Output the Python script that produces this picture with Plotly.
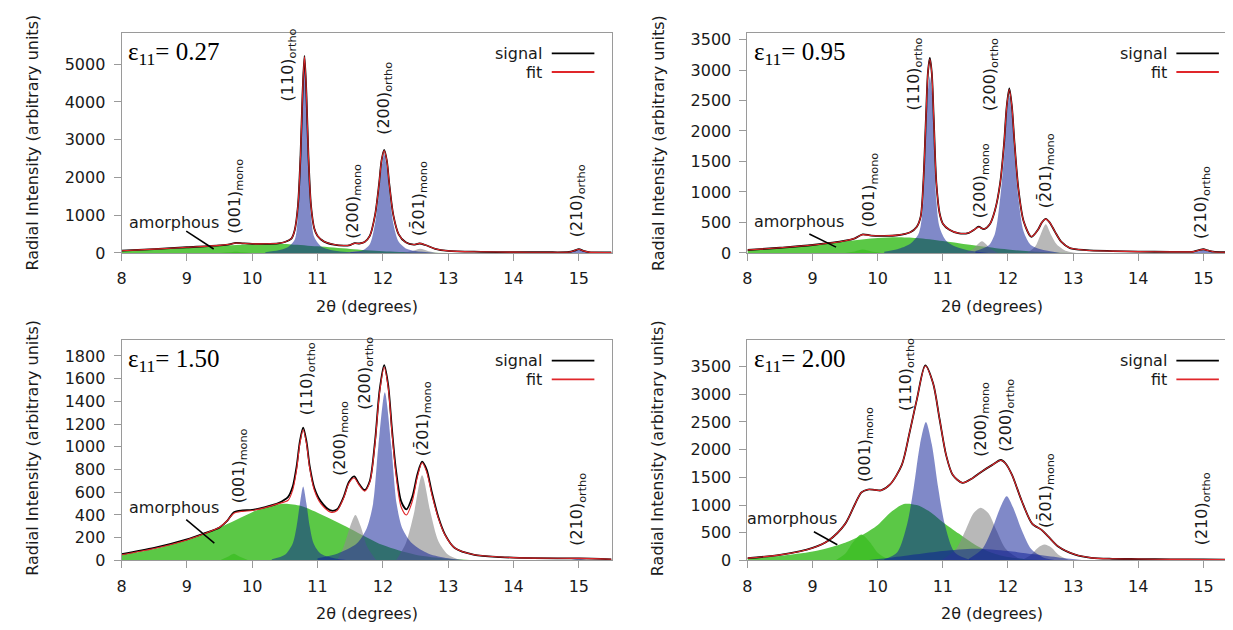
import plotly.graph_objects as go

# ---------------- data ----------------
# Panel A : eps11 = 0.27
A_SIG_X = [8.0, 8.5, 9.0, 9.5, 9.65, 9.75, 9.85, 10.0, 10.2, 10.4, 10.5, 10.6, 10.65, 10.7, 10.74, 10.77, 10.8, 10.83, 10.86, 10.9, 10.95, 11.0, 11.1, 11.25, 11.4, 11.5, 11.57, 11.64, 11.72, 11.8, 11.88, 11.94, 11.98, 12.02, 12.06, 12.1, 12.16, 12.24, 12.35, 12.47, 12.56, 12.65, 12.8, 13.0, 13.5, 14.0, 14.5, 14.85, 14.93, 15.0, 15.07, 15.15, 15.5]
A_SIG_Y = [60, 100, 150, 200, 225, 265, 255, 240, 240, 255, 290, 380, 600, 1250, 2600, 4200, 5220, 4200, 2600, 1250, 650, 450, 300, 220, 195, 210, 260, 250, 290, 450, 1000, 1800, 2450, 2730, 2450, 1800, 1000, 500, 280, 220, 250, 210, 110, 55, 30, 20, 18, 25, 60, 100, 55, 22, 12]
A_FIT_Y = [58, 100, 150, 200, 228, 262, 255, 242, 242, 255, 292, 382, 600, 1250, 2600, 4200, 5200, 4200, 2600, 1250, 650, 450, 300, 222, 197, 212, 255, 250, 290, 450, 1000, 1800, 2450, 2710, 2450, 1800, 1000, 500, 280, 222, 252, 212, 110, 55, 30, 20, 18, 25, 60, 98, 55, 22, 12]
A_AM_X = [8.0, 8.5, 9.0, 9.5, 10.0, 10.3, 10.6, 11.0, 11.5, 12.0, 12.5, 13.0]
A_AM_Y = [55, 95, 140, 190, 230, 240, 225, 175, 105, 45, 12, 0]
A_001_X = [9.5, 9.65, 9.75, 9.85, 10.0]
A_001_Y = [0, 15, 30, 15, 0]
A_110_X = [10.2, 10.4, 10.55, 10.65, 10.7, 10.74, 10.77, 10.8, 10.83, 10.86, 10.9, 10.95, 11.05, 11.2, 11.4, 11.7]
A_110_Y = [20, 70, 160, 350, 1000, 2350, 3950, 5000, 3950, 2350, 1000, 420, 180, 80, 30, 0]
A_200M_X = [11.4, 11.5, 11.58, 11.66, 11.76]
A_200M_Y = [0, 30, 60, 30, 0]
A_200O_X = [11.5, 11.7, 11.8, 11.88, 11.94, 11.98, 12.02, 12.06, 12.1, 12.16, 12.24, 12.35, 12.5, 12.8]
A_200O_Y = [20, 80, 230, 780, 1580, 2250, 2620, 2250, 1580, 780, 300, 120, 50, 0]
A_201M_X = [12.3, 12.45, 12.57, 12.7, 12.85]
A_201M_Y = [0, 50, 110, 45, 0]
A_210O_X = [14.8, 14.92, 15.0, 15.08, 15.2]
A_210O_Y = [0, 45, 90, 45, 0]

# Panel B : eps11 = 0.95
B_SIG_X = [8.0, 8.5, 9.0, 9.5, 9.65, 9.77, 9.9, 10.1, 10.3, 10.5, 10.6, 10.66, 10.7, 10.74, 10.77, 10.8, 10.83, 10.86, 10.9, 10.95, 11.0, 11.1, 11.25, 11.4, 11.48, 11.55, 11.63, 11.72, 11.8, 11.88, 11.94, 11.98, 12.02, 12.06, 12.1, 12.16, 12.24, 12.36, 12.46, 12.52, 12.58, 12.64, 12.72, 12.82, 12.95, 13.2, 13.6, 14.0, 14.5, 14.85, 14.93, 15.0, 15.07, 15.15, 15.5]
B_SIG_Y = [48, 85, 130, 200, 240, 305, 285, 280, 290, 340, 430, 600, 1150, 2200, 2950, 3200, 2950, 2200, 1150, 650, 480, 380, 320, 330, 380, 430, 390, 470, 700, 1150, 1800, 2400, 2700, 2400, 1800, 1050, 520, 265, 380, 500, 560, 500, 350, 180, 80, 45, 30, 22, 18, 22, 45, 60, 40, 20, 10]
B_FIT_Y = [48, 85, 130, 200, 242, 300, 285, 282, 292, 340, 430, 600, 1150, 2200, 2950, 3180, 2950, 2200, 1150, 650, 480, 380, 322, 332, 380, 425, 392, 470, 700, 1150, 1800, 2400, 2680, 2400, 1800, 1050, 520, 270, 380, 500, 555, 500, 350, 180, 80, 45, 30, 22, 18, 22, 45, 58, 40, 20, 10]
B_AM_X = [8.0, 8.5, 9.0, 9.5, 10.0, 10.3, 10.6, 11.0, 11.5, 12.0, 12.5, 13.0]
B_AM_Y = [45, 82, 125, 190, 245, 258, 245, 195, 120, 55, 15, 0]
B_001_X = [9.5, 9.65, 9.77, 9.9, 10.05]
B_001_Y = [0, 25, 55, 25, 0]
B_110_X = [10.1, 10.3, 10.5, 10.62, 10.66, 10.7, 10.74, 10.77, 10.8, 10.83, 10.86, 10.9, 10.95, 11.05, 11.2, 11.4, 11.7]
B_110_Y = [20, 60, 150, 300, 450, 850, 1900, 2650, 2900, 2650, 1900, 850, 420, 200, 100, 40, 0]
B_200M_X = [11.35, 11.47, 11.6, 11.73, 11.85]
B_200M_Y = [0, 70, 190, 70, 0]
B_200O_X = [11.5, 11.7, 11.8, 11.88, 11.94, 11.98, 12.02, 12.06, 12.1, 12.16, 12.24, 12.35, 12.5, 12.8]
B_200O_Y = [30, 120, 320, 900, 1600, 2250, 2580, 2250, 1600, 900, 350, 130, 60, 0]
B_201M_X = [12.3, 12.42, 12.5, 12.58, 12.66, 12.75, 12.9, 13.05]
B_201M_Y = [0, 110, 300, 470, 300, 140, 30, 0]
B_210O_X = [14.8, 14.92, 15.0, 15.08, 15.2]
B_210O_Y = [0, 25, 50, 25, 0]

# Panel C : eps11 = 1.50
C_SIG_X = [8.0, 8.5, 9.0, 9.25, 9.5, 9.62, 9.72, 9.85, 10.0, 10.2, 10.4, 10.55, 10.62, 10.68, 10.73, 10.78, 10.83, 10.88, 10.95, 11.05, 11.2, 11.3, 11.4, 11.48, 11.56, 11.64, 11.72, 11.8, 11.88, 11.95, 12.02, 12.08, 12.14, 12.2, 12.28, 12.36, 12.45, 12.53, 12.6, 12.67, 12.75, 12.85, 12.95, 13.1, 13.4, 13.8, 14.3, 15.0, 15.5]
C_SIG_Y = [55, 110, 185, 235, 290, 350, 425, 440, 445, 470, 505, 560, 650, 830, 1050, 1170, 1050, 830, 640, 520, 440, 450, 560, 690, 740, 670, 620, 700, 1050, 1500, 1720, 1550, 1150, 800, 520, 450, 560, 760, 870, 800, 600, 380, 230, 110, 50, 30, 20, 18, 10]
C_FIT_Y = [50, 105, 180, 232, 292, 352, 415, 432, 440, 465, 500, 530, 620, 800, 1030, 1150, 1030, 810, 620, 500, 425, 440, 550, 680, 725, 660, 610, 690, 1030, 1480, 1700, 1530, 1120, 760, 470, 400, 520, 740, 860, 780, 580, 370, 225, 110, 50, 30, 20, 18, 10]
C_AM_X = [8.0, 8.5, 9.0, 9.5, 10.0, 10.25, 10.5, 10.75, 11.0, 11.5, 12.0, 12.5, 13.0, 13.5]
C_AM_Y = [50, 100, 180, 290, 425, 480, 500, 480, 420, 280, 135, 50, 15, 0]
C_001_X = [9.5, 9.62, 9.72, 9.82, 9.95]
C_001_Y = [0, 30, 60, 30, 0]
C_110_X = [10.3, 10.5, 10.62, 10.68, 10.73, 10.78, 10.83, 10.88, 10.94, 11.05, 11.3, 11.5]
C_110_Y = [10, 50, 150, 300, 500, 650, 500, 300, 150, 60, 15, 0]
C_200M_X = [11.3, 11.4, 11.5, 11.58, 11.66, 11.76, 11.9]
C_200M_Y = [0, 120, 300, 400, 300, 120, 0]
C_200O_X = [11.0, 11.3, 11.6, 11.75, 11.85, 11.93, 12.03, 12.13, 12.21, 12.3, 12.45, 12.7, 13.0, 13.3]
C_200O_Y = [20, 60, 150, 280, 500, 1000, 1480, 1000, 500, 280, 150, 60, 20, 0]
C_201M_X = [12.2, 12.35, 12.47, 12.6, 12.73, 12.85, 13.0, 13.2]
C_201M_Y = [0, 150, 400, 750, 420, 170, 50, 0]
C_210O_X = [14.85, 15.0, 15.15]
C_210O_Y = [0, 15, 0]

# Panel D : eps11 = 2.00
D_SIG_X = [8.0, 8.5, 9.0, 9.25, 9.5, 9.65, 9.75, 9.85, 9.95, 10.05, 10.19, 10.37, 10.49, 10.6, 10.73, 10.85, 10.95, 11.05, 11.15, 11.3, 11.46, 11.6, 11.76, 11.89, 11.96, 12.06, 12.21, 12.37, 12.52, 12.62, 12.77, 13.03, 13.28, 13.6, 14.0, 14.5, 15.0, 15.5]
D_SIG_Y = [41, 100, 225, 365, 660, 1015, 1230, 1280, 1275, 1265, 1372, 1726, 2315, 2904, 3522, 3198, 2550, 1902, 1549, 1402, 1490, 1608, 1726, 1814, 1755, 1549, 1078, 666, 548, 430, 253, 106, 47, 30, 25, 20, 18, 15]
D_FIT_Y = [41, 100, 225, 365, 660, 1015, 1230, 1280, 1275, 1265, 1372, 1726, 2315, 2904, 3510, 3198, 2550, 1902, 1549, 1402, 1490, 1608, 1726, 1808, 1755, 1549, 1078, 666, 548, 430, 253, 106, 47, 30, 25, 20, 18, 15]
D_AM_X = [8.0, 8.5, 9.0, 9.25, 9.5, 9.75, 10.0, 10.2, 10.4, 10.6, 10.8, 11.0, 11.25, 11.5, 11.75, 12.0, 12.3, 12.6]
D_AM_Y = [35, 80, 160, 230, 320, 450, 640, 870, 1020, 1000, 880, 690, 480, 280, 140, 60, 20, 0]
D_001_X = [9.35, 9.5, 9.62, 9.75, 9.88, 10.0, 10.15, 10.3]
D_001_Y = [0, 120, 330, 470, 330, 140, 30, 0]
D_110_X = [10.1, 10.3, 10.45, 10.55, 10.65, 10.74, 10.83, 10.93, 11.03, 11.18, 11.4, 11.6]
D_110_Y = [20, 150, 650, 1300, 2100, 2500, 2100, 1300, 650, 150, 20, 0]
D_BROAD_X = [9.8, 10.2, 10.6, 11.0, 11.5, 12.0, 12.4, 12.8, 13.2]
D_BROAD_Y = [0, 50, 110, 170, 210, 170, 110, 50, 0]
D_200M_X = [11.0, 11.2, 11.35, 11.47, 11.58, 11.7, 11.82, 11.97, 12.2, 12.4]
D_200M_Y = [20, 200, 550, 850, 950, 850, 550, 200, 20, 0]
D_200O_X = [11.4, 11.6, 11.75, 11.88, 11.98, 12.08, 12.21, 12.36, 12.55, 12.8]
D_200O_Y = [30, 200, 550, 950, 1160, 950, 550, 200, 50, 0]
D_201M_X = [12.2, 12.35, 12.47, 12.56, 12.66, 12.78, 12.95]
D_201M_Y = [0, 100, 240, 290, 240, 100, 0]
D_210O_X = [14.85, 15.0, 15.15]
D_210O_Y = [0, 15, 0]

STRAINS = ["0.27", "0.95", "1.50", "2.00"]
Y_MAX = [5830, 3610, 1940, 3980]
Y_TICKS = [list(range(0, 5001, 1000)), list(range(0, 3501, 500)),
           list(range(0, 1801, 200)), list(range(0, 3501, 500))]
X_TICKS = [8, 9, 10, 11, 12, 13, 14, 15]

LBL_001 = "(001)<sub>mono</sub>"
LBL_110 = "(110)<sub>ortho</sub>"
LBL_200M = "(200)<sub>mono</sub>"
LBL_200O = "(200)<sub>ortho</sub>"
LBL_201M = "(2\u030401)<sub>mono</sub>"
LBL_210O = "(210)<sub>ortho</sub>"
LABELS = [LBL_001, LBL_110, LBL_200M, LBL_200O, LBL_201M, LBL_210O]
# label anchor positions (x centre, y of lower end) per panel
A_LBL_X = [9.74, 10.55, 11.55, 12.03, 12.55, 14.98]
A_LBL_Y = [450, 3950, 320, 3085, 405, 363]
B_LBL_X = [9.88, 10.56, 11.58, 11.73, 12.59, 14.98]
B_LBL_Y = [390, 2300, 540, 2295, 700, 190]
C_LBL_X = [9.80, 10.84, 11.35, 11.73, 12.62, 14.98]
C_LBL_Y = [482, 1257, 726, 1306, 899, 112]
D_LBL_X = [9.82, 10.43, 11.60, 11.98, 12.59, 14.98]
D_LBL_Y = [1372, 2668, 1844, 1932, 548, 230]
# "amorphous" text position and pointer line ends
AMORPH_TXT = [(8.81, 795), (8.79, 515), (8.81, 468), (8.69, 755)]
AMORPH_LINE = [((8.99, 580), (9.41, 104)), ((8.95, 310), (9.36, 96)),
               ((8.99, 359), (9.42, 152)), ((9.02, 518), (9.38, 283))]

# ---------------- styling ----------------
GREEN = "rgba(62,190,38,0.85)"
BLUE = "rgba(12,28,150,0.52)"
GRAY = "rgba(140,140,140,0.62)"
FRAME = "#9a9a9a"
SANS = "DejaVu Sans"
SERIF = "Liberation Serif"
FS = 16

X_DOM = [[0.0884, 0.4874], [0.5981, 0.9959], [0.0884, 0.4874], [0.5981, 0.9959]]
Y_DOM = [[0.6079, 0.9646], [0.6079, 0.9646], [0.1095, 0.4667], [0.1095, 0.4667]]

panels = [
    dict(sig=(A_SIG_X, A_SIG_Y, A_FIT_Y),
         comps=[(A_AM_X, A_AM_Y, GREEN), (A_001_X, A_001_Y, GREEN),
                (A_200M_X, A_200M_Y, GRAY), (A_201M_X, A_201M_Y, GRAY),
                (A_110_X, A_110_Y, BLUE), (A_200O_X, A_200O_Y, BLUE),
                (A_210O_X, A_210O_Y, BLUE)],
         lx=A_LBL_X, ly=A_LBL_Y),
    dict(sig=(B_SIG_X, B_SIG_Y, B_FIT_Y),
         comps=[(B_AM_X, B_AM_Y, GREEN), (B_001_X, B_001_Y, GREEN),
                (B_200M_X, B_200M_Y, GRAY), (B_201M_X, B_201M_Y, GRAY),
                (B_110_X, B_110_Y, BLUE), (B_200O_X, B_200O_Y, BLUE),
                (B_210O_X, B_210O_Y, BLUE)],
         lx=B_LBL_X, ly=B_LBL_Y),
    dict(sig=(C_SIG_X, C_SIG_Y, C_FIT_Y),
         comps=[(C_AM_X, C_AM_Y, GREEN), (C_001_X, C_001_Y, GREEN),
                (C_200M_X, C_200M_Y, GRAY), (C_201M_X, C_201M_Y, GRAY),
                (C_110_X, C_110_Y, BLUE), (C_200O_X, C_200O_Y, BLUE),
                (C_210O_X, C_210O_Y, BLUE)],
         lx=C_LBL_X, ly=C_LBL_Y),
    dict(sig=(D_SIG_X, D_SIG_Y, D_FIT_Y),
         comps=[(D_AM_X, D_AM_Y, GREEN), (D_001_X, D_001_Y, GREEN),
                (D_200M_X, D_200M_Y, GRAY), (D_201M_X, D_201M_Y, GRAY),
                (D_BROAD_X, D_BROAD_Y, BLUE),
                (D_110_X, D_110_Y, BLUE), (D_200O_X, D_200O_Y, BLUE),
                (D_210O_X, D_210O_Y, BLUE)],
         lx=D_LBL_X, ly=D_LBL_Y),
]

fig = go.Figure()
annotations = []
shapes = []
layout_axes = {}

for i, p in enumerate(panels):
    n = "" if i == 0 else str(i + 1)
    xa, ya = "x" + n, "y" + n
    for cx, cy, col in p["comps"]:
        fig.add_trace(go.Scatter(x=cx, y=cy, xaxis=xa, yaxis=ya, mode="lines",
                                 line=dict(width=0, shape="spline", smoothing=0.8),
                                 fill="tozeroy", fillcolor=col, showlegend=False,
                                 hoverinfo="skip"))
    sx, sy, fy = p["sig"]
    fig.add_trace(go.Scatter(x=sx, y=sy, xaxis=xa, yaxis=ya, mode="lines",
                             line=dict(color="black", width=1.8, shape="spline", smoothing=0.8),
                             showlegend=False, name="signal"))
    fig.add_trace(go.Scatter(x=sx, y=fy, xaxis=xa, yaxis=ya, mode="lines",
                             line=dict(color="#e0262a", width=1.1, shape="spline", smoothing=0.8),
                             showlegend=False, name="fit"))

    common = dict(showline=True, mirror=True, linecolor=FRAME, linewidth=1,
                  ticks="outside", ticklen=7, tickcolor=FRAME, showgrid=False,
                  zeroline=False, tickfont=dict(family=SANS, size=FS, color="#1a1a1a"))
    layout_axes["xaxis" + n] = dict(common, domain=X_DOM[i], range=[8, 15.5],
                                    tickvals=X_TICKS, anchor=ya, ticklabelstandoff=4)
    layout_axes["yaxis" + n] = dict(common, domain=Y_DOM[i], range=[0, Y_MAX[i]],
                                    tickvals=Y_TICKS[i], anchor=xa, ticklabelstandoff=5)

    # peak labels
    for txt, lx, ly in zip(LABELS, p["lx"], p["ly"]):
        annotations.append(dict(x=lx, y=ly, xref=xa, yref=ya, text=txt, textangle=-90,
                                showarrow=False, xanchor="center", yanchor="bottom",
                                font=dict(family=SANS, size=FS, color="#1a1a1a")))
    # amorphous text + pointer
    tx, ty = AMORPH_TXT[i]
    annotations.append(dict(x=tx, y=ty, xref=xa, yref=ya, text="amorphous",
                            showarrow=False, xanchor="center", yanchor="middle",
                            font=dict(family=SANS, size=FS, color="#1a1a1a")))
    (x0, y0), (x1, y1) = AMORPH_LINE[i]
    shapes.append(dict(type="line", xref=xa, yref=ya, x0=x0, y0=y0, x1=x1, y1=y1,
                       line=dict(color="black", width=1.5)))
    # strain label
    annotations.append(dict(x=0.01, y=0.905, xref=xa + " domain", yref=ya + " domain",
                            text="\u03b5<sub>11</sub>= " + STRAINS[i], showarrow=False,
                            xanchor="left", yanchor="middle",
                            font=dict(family=SERIF, size=25, color="black")))
    # hand-drawn key (text left of line, as in the original)
    for k, (name, colr) in enumerate([("signal", "black"), ("fit", "#e0262a")]):
        yk = 0.907 if k == 0 else 0.822
        annotations.append(dict(x=0.862, y=yk, xref=xa + " domain", yref=ya + " domain",
                                text=name, showarrow=False, xanchor="right", yanchor="middle",
                                font=dict(family=SANS, size=FS, color="#1a1a1a")))
        shapes.append(dict(type="line", xref=xa + " domain", yref=ya + " domain",
                           x0=0.878, x1=0.965, y0=yk, y1=yk,
                           line=dict(color=colr, width=1.8)))

# axis titles
for xc, yc in [(0.0162, 0.7865), (0.5255, 0.7865), (0.0162, 0.292), (0.5255, 0.292)]:
    annotations.append(dict(x=xc, y=yc, xref="paper", yref="paper",
                            text="Radial Intensity (arbitrary units)", textangle=-90,
                            showarrow=False, xanchor="center", yanchor="middle",
                            font=dict(family=SANS, size=FS, color="#1a1a1a")))
for xc, yc in [(0.2879, 0.521), (0.797, 0.521), (0.2879, 0.024), (0.797, 0.024)]:
    annotations.append(dict(x=xc, y=yc, xref="paper", yref="paper",
                            text="2\u03b8 (degrees)", showarrow=False,
                            xanchor="center", yanchor="middle",
                            font=dict(family=SANS, size=FS, color="#1a1a1a")))

fig.update_layout(width=1233, height=630, margin=dict(l=0, r=0, t=0, b=0),
                  paper_bgcolor="white", plot_bgcolor="white",
                  annotations=annotations, shapes=shapes, showlegend=False,
                  **layout_axes)

fig.write_html("out.html")
